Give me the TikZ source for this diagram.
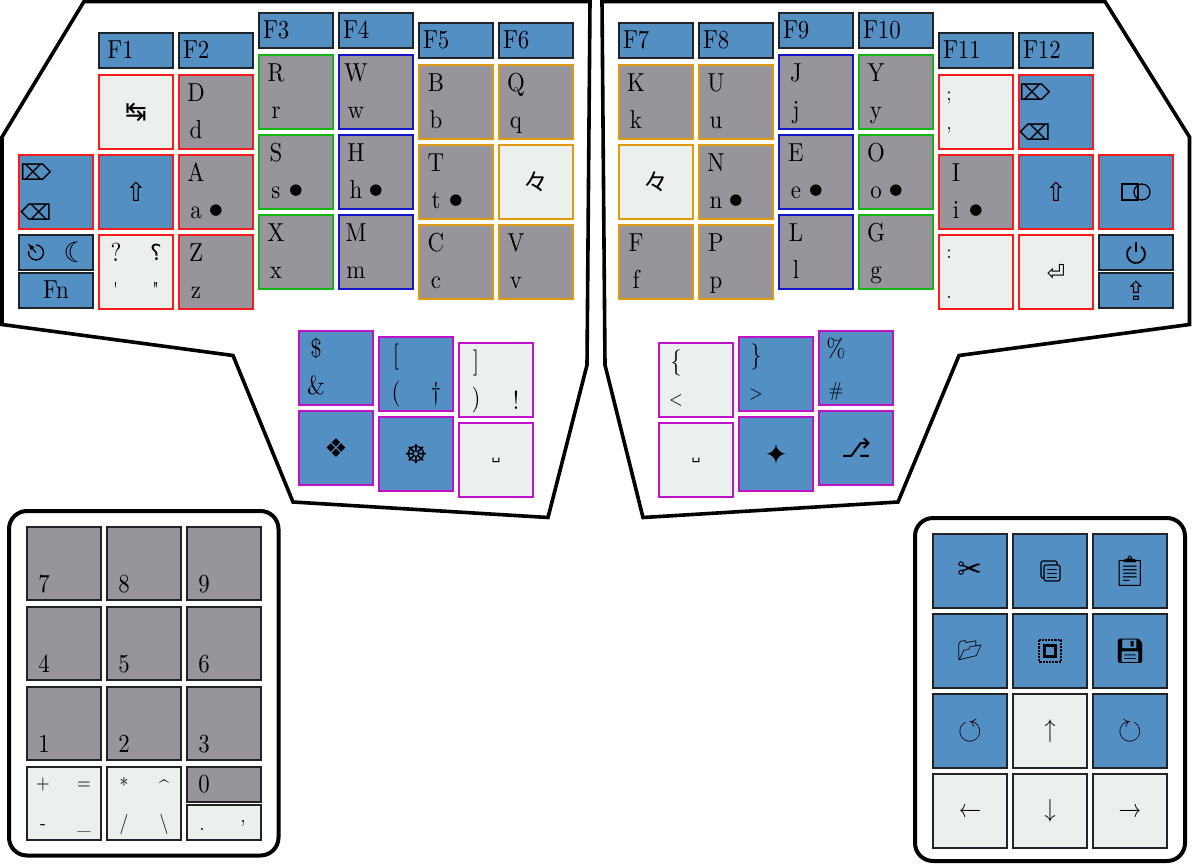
\documentclass[tikz,border=0pt]{standalone}
\usepackage{amssymb}
\usepackage{fontspec}
\newfontfamily\legendfont[FakeStretch=0.88]{lmroman10-regular.otf}
\newfontfamily\symfont{DejaVu Sans}
\newfontfamily\emojifont{Noto Emoji}
\newfontfamily\cjkfont{Noto Sans CJK SC}
\definecolor{keygrey}{HTML}{97949B}
\definecolor{keyblue}{HTML}{548FC4}
\definecolor{keylight}{HTML}{ECF0ED}
\definecolor{edgedark}{HTML}{202428}
\definecolor{edgered}{HTML}{FF1A1A}
\definecolor{edgegreen}{HTML}{14B414}
\definecolor{edgenavy}{HTML}{1414C8}
\definecolor{edgeorange}{HTML}{E09A10}
\definecolor{edgepink}{HTML}{C010C8}
\tikzset{
  key/.style={draw=edgedark, rectangle, minimum width=73.5pt, minimum height=73.5pt, inner sep=0pt, line width=1.8pt},
  half key/.style={key, minimum height=34.5pt},
  alpha/.style={fill=keygrey},
  action/.style={fill=keyblue},
  plain/.style={fill=keylight},
  red edge/.style={draw=edgered},
  green edge/.style={draw=edgegreen},
  navy edge/.style={draw=edgenavy},
  orange edge/.style={draw=edgeorange},
  pink edge/.style={draw=edgepink},
  % zero height, so the label's centre is its baseline
  big text/.style={text height=0pt, text depth=0pt, inner sep=0pt, font=\legendfont\fontsize{26}{26}\selectfont},
  small text/.style={text height=0pt, text depth=0pt, inner sep=0pt, font=\legendfont\fontsize{20}{20}\selectfont},
  legend/.style n args={3}{label={[big text, xshift=#1pt, yshift=#2pt]center:{#3}}},
  small legend/.style n args={3}{label={[small text, xshift=#1pt, yshift=#2pt]center:{#3}}},
  upper/.style={legend={-20}{11}{#1}},
  lower/.style={legend={-20}{-26}{#1}},
  digit/.style={legend={-20}{-29}{#1}},
  fkey/.style={label={[big text, text width=60pt, xshift=-3pt, yshift=-8pt]center:{#1}}},
  home dot/.style={label={[inner sep=0pt, yshift=-19pt, font=\symfont\fontsize{15}{15}\selectfont]center:{●}}},
  icon/.style={label={[inner sep=0pt, font=\symfont\fontsize{26}{26}\selectfont]center:{#1}}},
  icon at/.style n args={3}{label={[inner sep=0pt, xshift=#1pt, yshift=#2pt, font=\symfont\fontsize{22}{22}\selectfont]center:{#3}}},
  emoji/.style={label={[inner sep=0pt, font=\emojifont\fontsize{24}{24}\selectfont]center:{#1}}},
  repeat mark/.style={label={[inner sep=0pt, font=\cjkfont\fontsize{25}{25}\selectfont]center:{々}}},
  case line/.style={draw=black, line width=3.6pt, line join=miter},
  pad line/.style={draw=black, line width=4pt, rounded corners=18pt},
  glyph line/.style={draw=black, line width=1.3pt},
}
\begin{document}
\begin{tikzpicture}[x=1pt, y=-1pt, node distance=80pt]
\useasboundingbox (0,0) rectangle (1192,865);

% case outlines
\draw [case line] (84,1.5) -- (2,137) -- (2,324.5) -- (233,355.5) -- (293,502) -- (548,517.5) -- (587,365) -- (590,1.5) -- cycle;
\draw [case line] (602,1.5) -- (605,365) -- (643,517.5) -- (898,502) -- (959,355.5) -- (1189.5,324.5) -- (1189.5,137) -- (1105,1.5) -- cycle;
\draw [pad line] (9,511) rectangle (278.5,855.5);
\draw [pad line] (915,518) rectangle (1185,861);

% left hand
\node (key F1) [half key, action, fkey=\,F1] at (136,50.5) {};
\node (key F2) [half key, action, fkey=F2] at (216,50.5) {};
\node (key F3) [half key, action, fkey=F3] at (296,30.5) {};
\node (key F4) [half key, action, fkey=F4] at (376,30.5) {};
\node (key F5) [half key, action, fkey=F5] at (456,40.5) {};
\node (key F6) [half key, action, fkey=F6] at (536,40.5) {};

\node (key tab) [key, plain, red edge, icon=↹, below of=key F1, node distance=61.5pt] {};
\node (key shift left) [key, action, red edge, icon=⇧, below of=key tab] {};
\node (key quest) [key, plain, red edge, upper=?, icon at={20}{20}{⸮}, small legend={-20}{-24}{\textquotesingle}, small legend={20}{-24}{\textquotedbl}, below of=key shift left] {};
\node (key del left) [key, action, red edge, icon at={-20}{20}{⌦}, icon at={-20}{-20}{⌫}, left of=key shift left] {};
\node (key sleep) [half key, action, icon at={20}{0}{\fontsize{28}{28}\selectfont ☾}] at (56,252.5) {};
\node (key fn) [half key, action, legend={0}{-8}{Fn}] at (56,290.5) {};

\node (key D) [key, alpha, red edge, upper=D, lower=d, below of=key F2, node distance=61.5pt] {};
\node (key A) [key, alpha, red edge, upper=A, lower=a, home dot, below of=key D] {};
\node (key Z) [key, alpha, red edge, upper=Z, lower=z, below of=key A] {};

\node (key R) [key, alpha, green edge, upper=R, lower=r, below of=key F3, node distance=61.5pt] {};
\node (key S) [key, alpha, green edge, upper=S, lower=s, home dot, below of=key R] {};
\node (key X) [key, alpha, green edge, upper=X, lower=x, below of=key S] {};

\node (key W) [key, alpha, navy edge, upper=W, lower=w, below of=key F4, node distance=61.5pt] {};
\node (key H) [key, alpha, navy edge, upper=H, lower=h, home dot, below of=key W] {};
\node (key M) [key, alpha, navy edge, upper=M, lower=m, below of=key H] {};

\node (key B) [key, alpha, orange edge, upper=B, lower=b, below of=key F5, node distance=61.5pt] {};
\node (key T) [key, alpha, orange edge, upper=T, lower=t, home dot, below of=key B] {};
\node (key C) [key, alpha, orange edge, upper=C, lower=c, below of=key T] {};

\node (key Q) [key, alpha, orange edge, upper=Q, lower=q, below of=key F6, node distance=61.5pt] {};
\node (key repeat left) [key, plain, orange edge, repeat mark, below of=key Q] {};
\node (key V) [key, alpha, orange edge, upper=V, lower=v, below of=key repeat left] {};

% left thumb
\node (key dollar) [key, action, pink edge, upper=\$, lower=\&] at (336,368) {};
\node (key clover) [key, action, pink edge, icon=❖, below of=key dollar] {};
\node (key bracket) [key, action, pink edge, upper={[}, lower=(, legend={20}{-26}{†}] at (416,374) {};
\node (key wheel) [key, action, pink edge, icon=☸, below of=key bracket] {};
\node (key close) [key, plain, pink edge, upper={]}, lower=), legend={20}{-29}{!}] at (496,380) {};
\node (key space left) [key, plain, pink edge, icon={\fontsize{14}{14}\selectfont ␣}, below of=key close] {};

% right hand
\node (key F7) [half key, action, fkey=F7] at (656,40.5) {};
\node (key F8) [half key, action, fkey=F8] at (736,40.5) {};
\node (key F9) [half key, action, fkey=F9] at (816,30.5) {};
\node (key F10) [half key, action, fkey=F10] at (896,30.5) {};
\node (key F11) [half key, action, fkey=F11] at (976,50.5) {};
\node (key F12) [half key, action, fkey=F12] at (1056,50.5) {};

\node (key K) [key, alpha, orange edge, upper=K, lower=k, below of=key F7, node distance=61.5pt] {};
\node (key repeat right) [key, plain, orange edge, repeat mark, below of=key K] {};
\node (key F) [key, alpha, orange edge, upper=F, lower=f, below of=key repeat right] {};

\node (key U) [key, alpha, orange edge, upper=U, lower=u, below of=key F8, node distance=61.5pt] {};
\node (key N) [key, alpha, orange edge, upper=N, lower=n, home dot, below of=key U] {};
\node (key P) [key, alpha, orange edge, upper=P, lower=p, below of=key N] {};

\node (key J) [key, alpha, navy edge, upper=J, lower=j, below of=key F9, node distance=61.5pt] {};
\node (key E) [key, alpha, navy edge, upper=E, lower=e, home dot, below of=key J] {};
\node (key L) [key, alpha, navy edge, upper=L, lower=l, below of=key E] {};

\node (key Y) [key, alpha, green edge, upper=Y, lower=y, below of=key F10, node distance=61.5pt] {};
\node (key O) [key, alpha, green edge, upper=O, lower=o, home dot, below of=key Y] {};
\node (key G) [key, alpha, green edge, upper=G, lower=g, below of=key O] {};

\node (key semicolon) [key, plain, red edge, small legend={-27}{12}{;}, small legend={-27}{-17}{,}, below of=key F11, node distance=61.5pt] {};
\node (key I) [key, alpha, red edge, upper=I, lower=i, home dot, below of=key semicolon] {};
\node (key colon) [key, plain, red edge, small legend={-27}{14}{{:}}, small legend={-27}{-26}{.}, below of=key I] {};

\node (key del right) [key, action, red edge, icon at={-21}{20}{⌦}, icon at={-21}{-20}{⌫}, below of=key F12, node distance=61.5pt] {};
\node (key shift right) [key, action, red edge, icon=⇧, below of=key del right] {};
\node (key enter) [key, plain, red edge, icon={\fontsize{22}{22}\selectfont ⏎}, below of=key shift right] {};
\node (key compose) [key, action, red edge, right of=key shift right] {};
\node (key power) [half key, action] at (1136,252.5) {};
\node (key caps) [half key, action, icon=⇪] at (1136,290.5) {};

% right thumb
\node (key brace) [key, plain, pink edge, upper=\{, small legend={-20}{-25}{<}] at (696,380) {};
\node (key space right) [key, plain, pink edge, icon={\fontsize{14}{14}\selectfont ␣}, below of=key brace] {};
\node (key close brace) [key, action, pink edge, upper=\}, small legend={-20}{-25}{>}] at (776,374) {};
\node (key star) [key, action, pink edge, icon={\fontsize{28}{28}\selectfont ✦}, below of=key close brace] {};
\node (key percent) [key, action, pink edge, upper=\%, small legend={-20}{-28}{\#}] at (856,368) {};
\node (key alt) [key, action, pink edge, icon=⎇, below of=key percent] {};

% number pad
\node (key 7) [key, alpha, digit=7] at (64,563.5) {};
\node (key 8) [key, alpha, digit=8, right of=key 7] {};
\node (key 9) [key, alpha, digit=9, right of=key 8] {};
\node (key 4) [key, alpha, digit=4, below of=key 7] {};
\node (key 5) [key, alpha, digit=5, below of=key 8] {};
\node (key 6) [key, alpha, digit=6, below of=key 9] {};
\node (key 1) [key, alpha, digit=1, below of=key 4] {};
\node (key 2) [key, alpha, digit=2, below of=key 5] {};
\node (key 3) [key, alpha, digit=3, below of=key 6] {};
\node (key plus) [key, plain, small legend={-21}{14}{+}, small legend={20}{14}{=}, small legend={-21}{-26}{-}, small legend={20}{-26}{\_}, below of=key 1] {};
\node (key times) [key, plain, small legend={-20}{11}{*}, small legend={20}{9}{\textasciicircum}, small legend={-20}{-26}{/}, small legend={20}{-26}{\textbackslash}, below of=key 2] {};
\node (key 0) [half key, alpha, legend={-20}{-8}{0}] at (224,784.5) {};
\node (key dot) [half key, plain, small legend={-22}{-8}{.}, small legend={19}{0}{,}] at (224,822.5) {};

% edit pad
\node (key cut) [key, action, icon={\fontsize{30}{30}\selectfont ✂}] at (970,571) {};
\node (key copy) [key, action, right of=key cut] {};
\node (key paste) [key, action, emoji={\fontsize{30}{30}\selectfont 📋}, right of=key copy] {};
\node (key open) [key, action, emoji={\fontsize{20}{20}\selectfont 📂}, below of=key cut] {};
\node (key select) [key, action, below of=key copy] {};
\node (key save) [key, action, emoji=💾, below of=key paste] {};
\node (key undo) [key, action, legend={0}{-8}{\fontsize{31}{31}\selectfont $\circlearrowleft$}, below of=key open] {};
\node (key up) [key, plain, legend={0}{-6}{↑}, below of=key select] {};
\node (key redo) [key, action, legend={0}{-8}{\fontsize{31}{31}\selectfont $\circlearrowright$}, below of=key save] {};
\node (key left) [key, plain, legend={0}{-6}{←}, below of=key undo] {};
\node (key down) [key, plain, legend={0}{-6}{↓}, below of=key up] {};
\node (key right) [key, plain, legend={0}{-6}{→}, below of=key redo] {};

% symbols that no font has
\begin{scope}[shift={(key sleep.center)}]
  \draw [glyph line] (-20,-7.5) arc (-90:190:7.5);
  \draw [glyph line, -latex] (-20,0) -- (-28,-9);
\end{scope}
\begin{scope}[shift={(key power.center)}]
  \draw [glyph line, line width=1.8pt] (-5.16,-5.87) arc (235:-55:9);
  \draw [glyph line, line width=1.8pt] (0,-11) -- (0,-1);
\end{scope}
\begin{scope}[shift={(key compose.center)}]
  \draw [glyph line] (-14,-8) rectangle (2,8);
  \draw [glyph line] (6,0) circle (8);
\end{scope}
\begin{scope}[shift={(key copy.center)}]
  \draw [glyph line, rounded corners=2pt] (-9,-10) rectangle (7,7);
  \draw [glyph line, fill=keyblue, rounded corners=2pt] (-6,-6) rectangle (10,10);
  \foreach \row in {-2,2,6} {
    \draw [draw=black, line width=1pt] (-3,\row) -- (7,\row);
  }
\end{scope}
\begin{scope}[shift={(key select.center)}]
  \draw [draw=black, line width=2.2pt, densely dotted] (-11,-11) rectangle (11,11);
  \draw [draw=black, line width=2.2pt] (-5.5,-5.5) rectangle (5.5,5.5);
\end{scope}
\end{tikzpicture}
\end{document}
